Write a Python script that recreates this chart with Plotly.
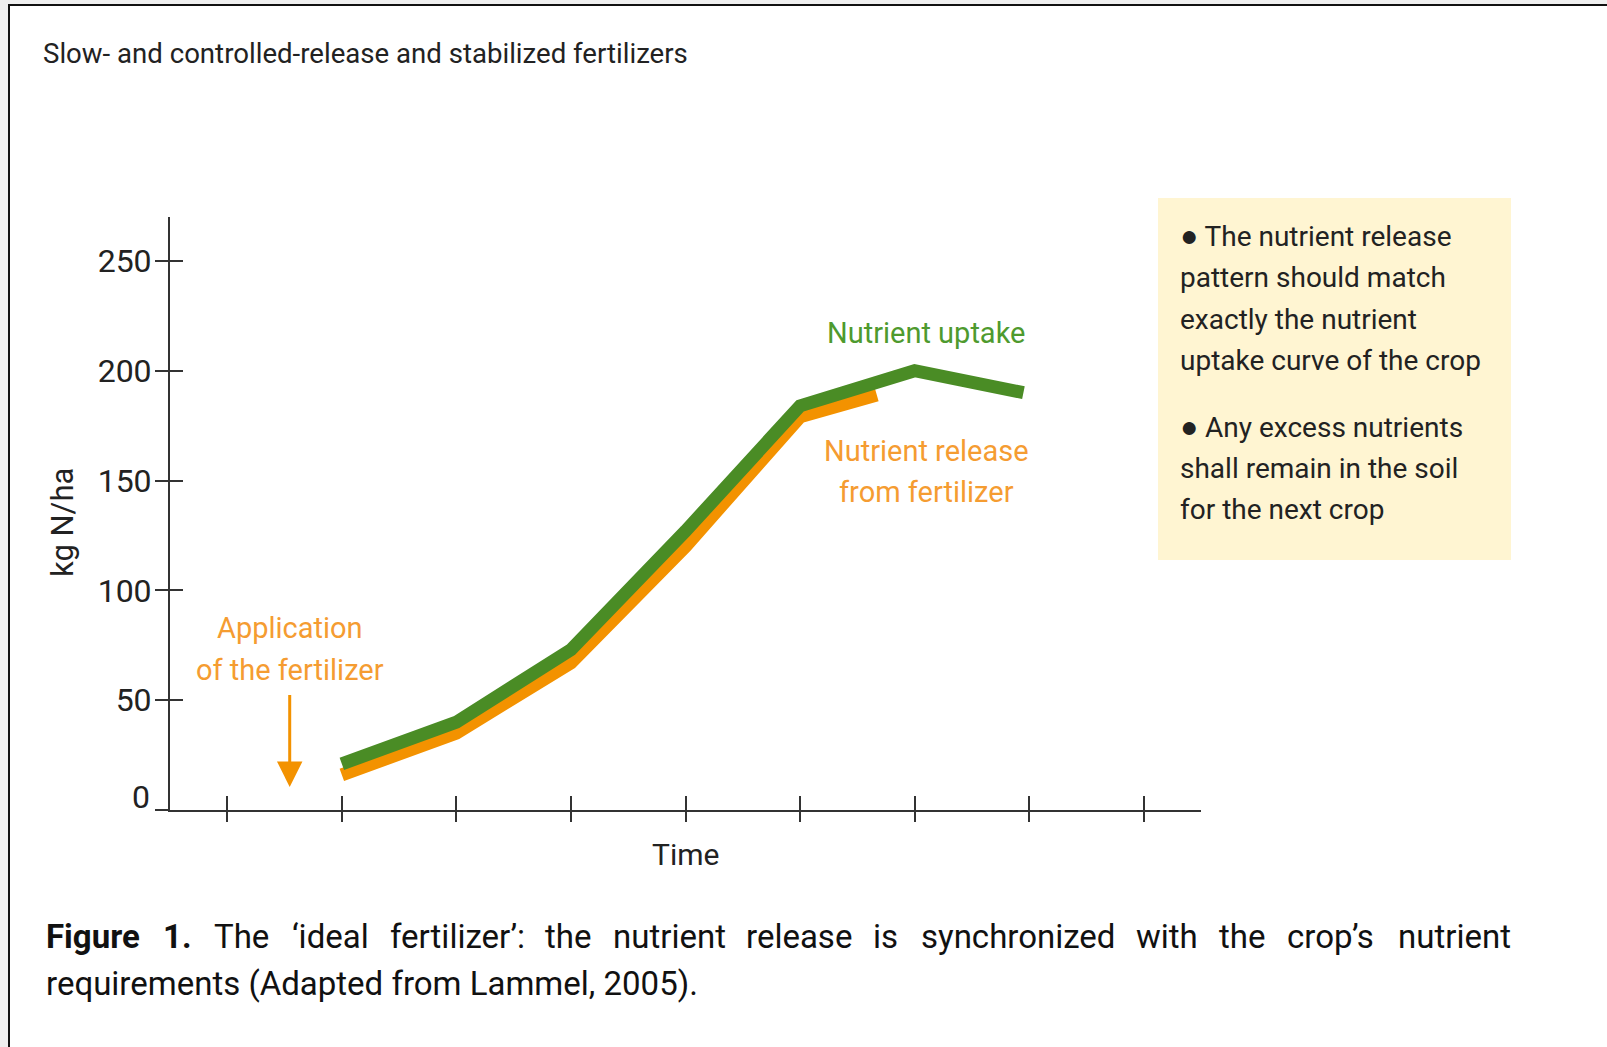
import plotly.graph_objects as go

# ---- data ----
time_ticks = [0, 1, 2, 3, 4, 5, 6, 7, 8]
uptake_x = [1, 2, 3, 4, 5, 6, 6.95]
uptake_y = [21, 40, 73, 127, 184, 200, 190]
release_x = [1, 2, 3, 4, 5, 5.67]
release_y = [16, 35, 67, 120, 179, 189]
y_ticks = [0, 50, 100, 150, 200, 250]
y_ticktext = ["", "50", "100", "150", "200", "250"]
application_x = 0.545
arrow_from_y = 53
arrow_to_y = 10.5

W, H = 1607, 1047
L, R, T, B = 170, 1201, 217, 810

def px(x):
    return (x - L) / (R - L)

def py(y):
    return (B - y) / (B - T)

FONT = "Roboto, Liberation Sans, sans-serif"
GREEN = "#4a8c25"
ORANGE = "#f39200"
GREEN_TXT = "#4e9a2e"
ORANGE_TXT = "#f59c31"
DARK = "#222222"

fig = go.Figure()
fig.add_trace(go.Scatter(x=release_x, y=release_y, mode="lines",
                         line=dict(color=ORANGE, width=13), hoverinfo="skip"))
fig.add_trace(go.Scatter(x=uptake_x, y=uptake_y, mode="lines",
                         line=dict(color=GREEN, width=13), hoverinfo="skip"))
fig.add_trace(go.Scatter(x=[None], y=[None], xaxis="x2", yaxis="y2",
                         mode="lines", hoverinfo="skip"))

axis_common = dict(showgrid=False, zeroline=False, fixedrange=True)
fig.update_layout(
    width=W, height=H,
    margin=dict(l=L, r=W - R, t=T, b=H - B, pad=0),
    paper_bgcolor="#efefef", plot_bgcolor="rgba(0,0,0,0)",
    showlegend=False,
    font=dict(family=FONT, color=DARK),
    xaxis=dict(range=[-0.5, 8.5], tickvals=time_ticks, showticklabels=False,
               ticks="outside", ticklen=10, tickwidth=2, tickcolor="#333",
               showline=True, linecolor="#333", linewidth=2, **axis_common),
    yaxis=dict(range=[0, 270], tickvals=y_ticks, ticktext=y_ticktext,
               ticks="outside", ticklen=13, tickwidth=2, tickcolor="#333",
               ticklabelstandoff=-3,
               tickfont=dict(size=32, color=DARK, family=FONT),
               showline=True, linecolor="#333", linewidth=2, **axis_common),
    xaxis2=dict(range=[-0.5, 8.5], tickvals=time_ticks, showticklabels=False,
                ticks="inside", ticklen=14, tickwidth=2, tickcolor="#333",
                overlaying="x", anchor="y2", showline=False, **axis_common),
    yaxis2=dict(range=[0, 270], tickvals=y_ticks, showticklabels=False,
                ticks="inside", ticklen=13, tickwidth=2, tickcolor="#333",
                overlaying="y", anchor="x2", side="left", showline=False,
                **axis_common),
)

shapes = [
    # page frame
    dict(type="rect", xref="paper", yref="paper", layer="below",
         x0=px(9), x1=px(W + 20), y0=py(5), y1=py(H + 20),
         fillcolor="white", line=dict(color="#111", width=2)),
    # yellow note box
    dict(type="rect", xref="paper", yref="paper", layer="below",
         x0=px(1158), x1=px(1511), y0=py(198), y1=py(560),
         fillcolor="#fff5d2", line=dict(width=0)),
]
fig.update_layout(shapes=shapes)

ann = []
def text(t, x, y, size, color=DARK, xanchor="left", xref="paper", yref="paper", **kw):
    ann.append(dict(text=t, xref=xref, yref=yref, x=x, y=y, xanchor=xanchor,
                    yanchor="middle", showarrow=False,
                    font=dict(size=size, color=color), **kw))

# title
text("Slow- and controlled-release and stabilized fertilizers", px(41), py(54), 27.6)
# y axis title
text("kg N/ha", px(62), py(523), 31, xanchor="center", textangle=-90)
# zero label
text("0", px(152), 0, 32, xanchor="right", yref="y", yshift=13)
# x axis title
text("Time", 4, py(854), 30, xanchor="center", xref="x")
# series labels
text("Nutrient uptake", 6.1, 217, 29, GREEN_TXT, "center", "x", "y")
text("Nutrient release", 6.1, 163.5, 29, ORANGE_TXT, "center", "x", "y")
text("from fertilizer", 6.1, 144.8, 29, ORANGE_TXT, "center", "x", "y")
text("Application", application_x, 82.9, 29, ORANGE_TXT, "center", "x", "y")
text("of the fertilizer", application_x, 63.8, 29, ORANGE_TXT, "center", "x", "y")
# arrow
ann.append(dict(text="", xref="x", yref="y", x=application_x, y=arrow_to_y,
                ax=application_x, ay=arrow_from_y, axref="x", ayref="y",
                showarrow=True, arrowhead=2, arrowsize=1.7, arrowwidth=3,
                arrowcolor=ORANGE))

# note box lines
BUL = "<span style='font-size:30px'>\u25cf</span> "
note_lines = [
    (BUL + "The nutrient release", 235),
    ("pattern should match", 277),
    ("exactly the nutrient", 319),
    ("uptake curve of the crop", 360),
    (BUL + "Any excess nutrients", 426),
    ("shall remain in the soil", 468),
    ("for the next crop", 509),
]
for t, yy in note_lines:
    text(t, px(1178), py(yy), 28)

# caption: first line justified between x=44 and x=1506 (page px)
cap_words = ["<b>Figure</b>", "<b>1.</b>", "The", "\u2018ideal", "fertilizer\u2019:", "the",
             "nutrient", "release", "is", "synchronized", "with", "the",
             "crop\u2019s", "nutrient"]
# approximate rendered widths (px) of each word at 33px Roboto
word_w = [94, 28, 54.5, 75, 131.5, 45, 110, 104, 24.4, 191.6, 60.3, 45, 87.4, 110]
left, right = 44, 1506
gap = (right - left - sum(word_w)) / (len(word_w) - 1)
xx = left
for t, w in zip(cap_words, word_w):
    text(t, px(xx), py(936), 33, "#111")
    xx += w + gap
text("requirements (Adapted from Lammel, 2005).", px(44), py(983), 33, "#111")

fig.update_layout(annotations=ann)
fig.write_html("out.html", config={"displayModeBar": False},
               post_script="document.body.style.margin='0px';document.body.style.overflow='hidden';")
